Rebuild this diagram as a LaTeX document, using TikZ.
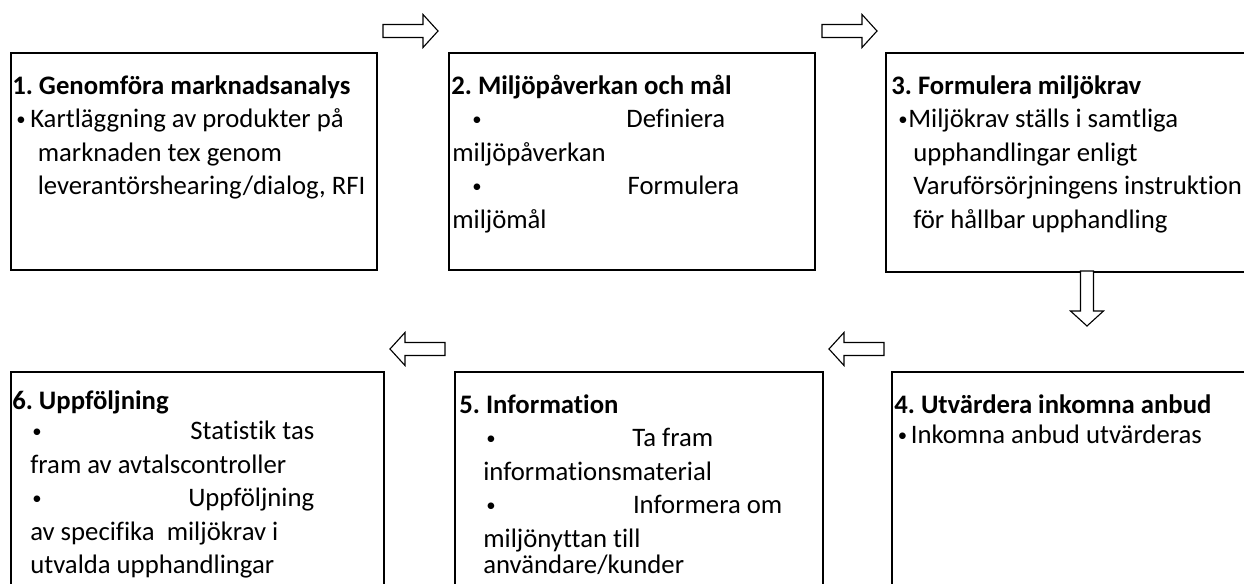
\documentclass[tikz,border=0pt]{standalone}
\usepackage{fontspec}
\setmainfont{Carlito}[Ligatures=NoCommon]
\frenchspacing
\newlength{\pxlen}
\setlength{\pxlen}{0.025cm}
\newcommand{\dotmark}{\raisebox{0.15ex}{\scalebox{0.7}{•}}}
\tikzset{
    panel/.style={draw, line width=1.4pt, anchor=north west, inner sep=0pt},
    boxtext/.style={anchor=north west, inner sep=0pt, align=left,
        font=\fontsize{19}{23.8}\selectfont\frenchspacing},
    arrowline/.style={draw, fill=white, line width=0.8pt, line join=miter},
    blockarrow/.pic={\path[arrowline] (0,-6.5) -- (40,-6.5) -- (40,-16.5) -- (55,0)
        -- (40,16.5) -- (40,6.5) -- (0,6.5) -- cycle;}
}

\begin{document}
\begin{tikzpicture}[x=0.025cm, y=-0.025cm]
    \clip (0,0) rectangle (1244,584);
    \fill[white] (0,0) rectangle (1244,584);
    % top row
    \node[panel, minimum width=366\pxlen, minimum height=217\pxlen] (box1) at (10,52) {};
    \node[panel, minimum width=366\pxlen, minimum height=217\pxlen] (box2) at (448,52) {};
    \node[panel, minimum width=385\pxlen, minimum height=219\pxlen] (box3) at (885,52) {};
    % bottom row
    \node[panel, minimum width=373\pxlen, minimum height=249\pxlen] (box6) at (10,371) {};
    \node[panel, minimum width=368\pxlen, minimum height=249\pxlen] (box5) at (454,371) {};
    \node[panel, minimum width=380\pxlen, minimum height=249\pxlen] (box4) at (891,371) {};

    \node[boxtext] (text1) at (12,70.5) {\strut\textbf{1. Genomföra marknadsanalys}\\
        \hspace*{4\pxlen}\makebox[14\pxlen][l]{\dotmark}Kartläggning av produkter på\\
        \hspace*{25.5\pxlen}marknaden tex genom\\
        \hspace*{25.5\pxlen}leverantörshearing/dialog, RFI};
    \node[boxtext] (text2) at (451,70.5) {\strut\textbf{2. Miljöpåverkan och mål}\\
        \hspace*{21\pxlen}\makebox[253\pxlen][s]{\dotmark\hfill Definiera}\\
        \hspace*{1\pxlen}miljöpåverkan\\
        \hspace*{21\pxlen}\makebox[267\pxlen][s]{\dotmark\hfill Formulera}\\
        \hspace*{1\pxlen}miljömål};
    \node[boxtext] (text3) at (891,70.5) {\strut\textbf{3. Formulera miljökrav}\\
        \hspace*{7\pxlen}\makebox[10\pxlen][l]{\dotmark}Miljökrav ställs i samtliga\\
        \hspace*{22\pxlen}upphandlingar enligt\\
        \hspace*{22\pxlen}Varuförsörjningens instruktion\\
        \hspace*{22\pxlen}för hållbar upphandling};
    \node[boxtext] (text4) at (894,389.5) {\strut\textbf{4. Utvärdera inkomna anbud}\\[-2pt]
        \hspace*{3.5\pxlen}\makebox[13\pxlen][l]{\dotmark}Inkomna anbud utvärderas};
    \node[boxtext] (text5) at (459,389.5) {\strut\textbf{5. Information}\\
        \hspace*{27\pxlen}\makebox[227\pxlen][s]{\dotmark\hfill Ta fram}\\
        \hspace*{24\pxlen}informationsmaterial\\
        \hspace*{27\pxlen}\makebox[296\pxlen][s]{\dotmark\hfill Informera om}\\
        \hspace*{24\pxlen}miljönyttan till\\[-5pt]
        \hspace*{24\pxlen}användare/kunder};
    \node[boxtext] (text6) at (12,385.5) {\strut\textbf{6. Uppföljning}\\[-2pt]
        \hspace*{20\pxlen}\makebox[282\pxlen][s]{\dotmark\hfill Statistik tas}\\
        \hspace*{18\pxlen}fram av avtalscontroller\\
        \hspace*{20\pxlen}\makebox[282\pxlen][s]{\dotmark\hfill Uppföljning}\\
        \hspace*{18\pxlen}av specifika\ \ miljökrav i\\
        \hspace*{18\pxlen}utvalda upphandlingar};

    % block arrows
    \pic at (383,31) {blockarrow};
    \pic at (822,31) {blockarrow};
    \pic[rotate=-90] at (1087,271) {blockarrow};
    \pic[rotate=180] at (884,349) {blockarrow};
    \pic[rotate=180] at (445,349) {blockarrow};
\end{tikzpicture}
\end{document}
